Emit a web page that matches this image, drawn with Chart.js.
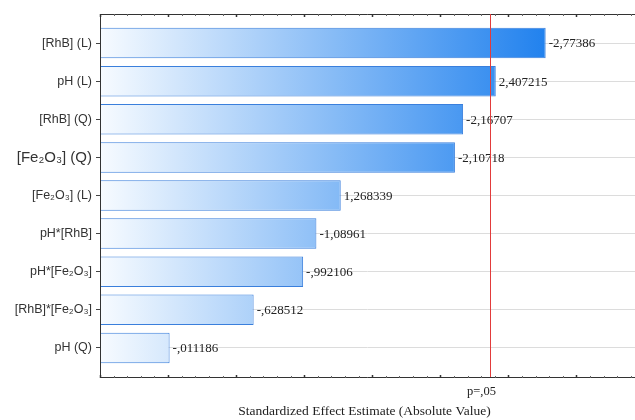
<!DOCTYPE html>
<html>
<head>
<meta charset="utf-8">
<title>Pareto Chart of Standardized Effects</title>
<script src="https://cdn.jsdelivr.net/npm/chart.js@4.4.0/dist/chart.umd.min.js"></script>
<style>
  body { margin: 0; background: #fff; }
  #wrap { width: 635px; height: 420px; }
</style>
</head>
<body>
<div id="wrap"><canvas id="pareto"></canvas></div>
<script>
var factors = ["[RhB] (L)", "pH (L)", "[RhB] (Q)", "[Fe₂O₃] (Q)", "[Fe₂O₃] (L)",
               "pH*[RhB]", "pH*[Fe₂O₃]", "[RhB]*[Fe₂O₃]", "pH (Q)"];
var effects = [-2.77386, 2.407215, -2.16707, -2.10718, 1.268339,
               -1.08961, -0.992106, -0.628512, -0.011186];
var pCritical = 2.365;   // t value at p=.05
var pLabel = "p=,05";
var xMin = -0.5, xMax = 3.43;

// Statistica style numbers: comma decimal, no leading zero
function statFmt(v) {
  return String(v).replace(/^(-?)0\./, "$1.").replace(".", ",");
}

var serif = '"Liberation Serif", "Times New Roman", serif';

var paretoDecor = {
  id: 'paretoDecor',
  afterDatasetsDraw: function (chart) {
    var ctx = chart.ctx, area = chart.chartArea, x = chart.scales.x;
    var top = area.top - 10, bottom = area.bottom + 10;
    ctx.save();

    // effect values at the end of each bar
    ctx.font = '13px ' + serif;
    ctx.fillStyle = '#222';
    ctx.textAlign = 'left';
    ctx.textBaseline = 'middle';
    chart.getDatasetMeta(0).data.forEach(function (bar, i) {
      ctx.fillText(statFmt(effects[i]), bar.x + 3, bar.y + 1);
    });

    // plot frame
    ctx.strokeStyle = '#333';
    ctx.lineWidth = 1;
    ctx.beginPath();
    ctx.moveTo(area.right, top + 0.5);
    ctx.lineTo(area.left + 0.5, top + 0.5);
    ctx.lineTo(area.left + 0.5, bottom + 0.5);
    ctx.lineTo(area.right, bottom + 0.5);
    ctx.stroke();

    // inward ticks, minor every 0.1, major every 0.5
    for (var k = 0; ; k++) {
      var v = xMin + k * 0.1;
      if (v > xMax + 1e-9) break;
      var px = Math.round(x.getPixelForValue(v)) + 0.5;
      var len = (k % 5 === 0) ? 3 : 2;
      ctx.lineWidth = (k % 5 === 0) ? 1.5 : 1;
      ctx.strokeStyle = (k % 5 === 0) ? '#333' : '#666';
      ctx.beginPath();
      ctx.moveTo(px, top); ctx.lineTo(px, top + len);
      ctx.moveTo(px, bottom + 1); ctx.lineTo(px, bottom + 1 - len);
      ctx.stroke();
    }

    // significance line
    var rx = Math.round(x.getPixelForValue(pCritical)) + 0.5;
    ctx.strokeStyle = '#e23b3b';
    ctx.lineWidth = 1;
    ctx.beginPath();
    ctx.moveTo(rx, top);
    ctx.lineTo(rx, bottom);
    ctx.stroke();

    ctx.fillStyle = '#222';
    ctx.textAlign = 'center';
    ctx.font = '12.5px ' + serif;
    ctx.fillText(pLabel, rx - 9, bottom + 15);

    ctx.font = '13.5px ' + serif;
    ctx.fillText('Standardized Effect Estimate (Absolute Value)', (area.left + area.right) / 2 - 3, bottom + 34);
    ctx.restore();
  }
};

new Chart(document.getElementById('pareto'), {
  type: 'bar',
  data: {
    labels: factors,
    datasets: [{
      data: effects.map(Math.abs),
      base: xMin,
      backgroundColor: function (c) {
        var area = c.chart.chartArea;
        if (!area) return '#7ab6f5';
        var g = c.chart.ctx.createLinearGradient(area.left, 0, area.right, 0);
        g.addColorStop(0, '#f7fbff');
        g.addColorStop(0.83, '#2282ee');
        g.addColorStop(1, '#1671dc');
        return g;
      },
      borderColor: '#3a7fdc',
      borderWidth: 1,
      borderSkipped: false,
      barPercentage: 0.8,
      categoryPercentage: 1
    }]
  },
  options: {
    indexAxis: 'y',
    responsive: true,
    maintainAspectRatio: false,
    animation: false,
    layout: { padding: { top: 24, bottom: 53, left: 0, right: 0 } },
    plugins: { legend: { display: false }, tooltip: { enabled: false } },
    scales: {
      x: {
        display: false,
        min: xMin,
        max: xMax
      },
      y: {
        afterFit: function (scale) { scale.width = 100; },
        border: { display: false },
        grid: { offset: false, color: '#dcdcdc', tickLength: 4, tickColor: '#444' },
        ticks: {
          padding: 4,
          color: '#333',
          font: function (c) {
            return { family: '"Liberation Sans", Arial, sans-serif', size: c.index === 3 ? 15 : 12.5 };
          }
        }
      }
    }
  },
  plugins: [paretoDecor]
});
</script>
</body>
</html>
